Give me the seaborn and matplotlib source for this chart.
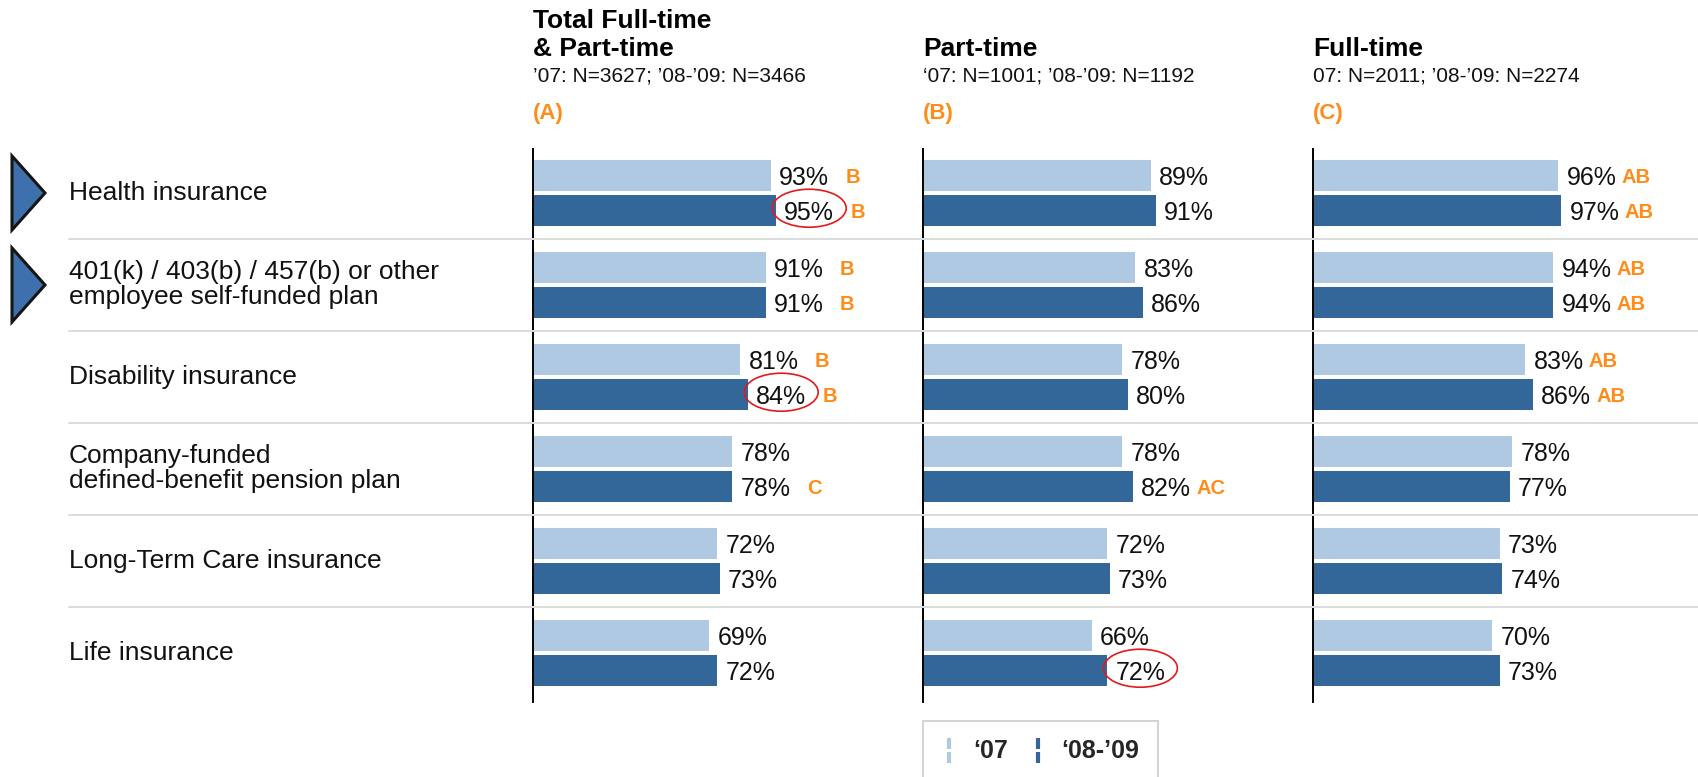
import matplotlib
matplotlib.use("Agg")
import matplotlib.pyplot as plt
import pandas as pd
import seaborn as sns
from matplotlib.lines import Line2D
from matplotlib.patches import Ellipse, Polygon
from matplotlib.path import Path
from matplotlib.transforms import IdentityTransform, blended_transform_factory

# ---- data -------------------------------------------------------------
benefits = [
    "Health insurance",
    "401(k) / 403(b) / 457(b) or other\nemployee self-funded plan",
    "Disability insurance",
    "Company-funded\ndefined-benefit pension plan",
    "Long-Term Care insurance",
    "Life insurance",
]
periods = ["‘07", "‘08-’09"]

total_07 = [93, 91, 81, 78, 72, 69]
total_0809 = [95, 91, 84, 78, 73, 72]
part_07 = [89, 83, 78, 78, 72, 66]
part_0809 = [91, 86, 80, 82, 73, 72]
full_07 = [96, 94, 83, 78, 73, 70]
full_0809 = [97, 94, 86, 77, 74, 73]

# significance letters (difference vs. other columns)
total_sig_07 = ["B", "B", "B", "", "", ""]
total_sig_0809 = ["B", "B", "B", "C", "", ""]
part_sig_07 = ["", "", "", "", "", ""]
part_sig_0809 = ["", "", "", "AC", "", ""]
full_sig_07 = ["AB", "AB", "AB", "", "", ""]
full_sig_0809 = ["AB", "AB", "AB", "", "", ""]

# highlighted values
total_circled_0809 = [True, False, True, False, False, False]
part_circled_0809 = [False, False, False, False, False, True]

panel_titles = ["Total Full-time\n& Part-time", "Part-time", "Full-time"]
panel_counts = ["’07: N=3627; ’08-’09: N=3466",
                "‘07: N=1001; ’08-’09: N=1192",
                "07: N=2011; ’08-’09: N=2274"]
panel_tags = ["(A)", "(B)", "(C)"]
flagged_rows = [0, 1]

# ---- style ------------------------------------------------------------
sns.set_theme(style="white")
plt.rcParams["font.family"] = ["Liberation Sans", "DejaVu Sans"]

LIGHT = "#AFC9E3"
DARK = "#336699"
ORANGE = "#FF8C1A"
RED = "#E3191C"
GRID = "#DCDCDC"

W, H = 1698, 777
fig = plt.figure(figsize=(W / 100, H / 100), dpi=100)
fig.patch.set_facecolor("white")


def fx(px):
    return px / W


def fy(py):
    return 1 - py / H


panels = [
    dict(v07=total_07, v0809=total_0809, s07=total_sig_07, s0809=total_sig_0809,
         circ=total_circled_0809, left=533, gap=16),
    dict(v07=part_07, v0809=part_0809, s07=part_sig_07, s0809=part_sig_0809,
         circ=part_circled_0809, left=923, gap=5),
    dict(v07=full_07, v0809=full_0809, s07=full_sig_07, s0809=full_sig_0809,
         circ=[False] * len(benefits), left=1313, gap=5),
]

AX_TOP, AX_BOTTOM, AX_W = 149, 702, 358
axes = []
value_labels = []
for i, p in enumerate(panels):
    df = pd.DataFrame({
        "benefit": benefits + benefits,
        "period": [periods[0]] * len(benefits) + [periods[1]] * len(benefits),
        "share": p["v07"] + p["v0809"],
    })
    ax = fig.add_axes([fx(p["left"]), fy(AX_BOTTOM), fx(AX_W), (AX_BOTTOM - AX_TOP) / H])
    sns.barplot(data=df, x="share", y="benefit", hue="period", order=benefits,
                hue_order=periods, palette={periods[0]: LIGHT, periods[1]: DARK},
                orient="h", width=0.75, gap=0.09, saturation=1, errorbar=None,
                linewidth=0, legend=False, ax=ax)
    ax.set_xlim(0, 140)
    ax.set_ylim(5.533, -0.478)
    ax.set_xlabel("")
    ax.set_ylabel("")
    ax.set_xticks([])
    ax.set_yticks([])
    ax.patch.set_alpha(0)
    for s in ["top", "right", "bottom"]:
        ax.spines[s].set_visible(False)
    ax.spines["left"].set_color("black")
    ax.spines["left"].set_linewidth(1.4)

    for container, period in zip(ax.containers, periods):
        texts = ax.bar_label(container,
                             labels=[f"{int(round(b.get_width()))}%" for b in container],
                             padding=6, fontsize=18, color="#111111")
        sigs = p["s07"] if period == periods[0] else p["s0809"]
        for bar, t in zip(container, texts):
            t.set_va("center_baseline")
            row = int(round(bar.get_y() + bar.get_height() / 2))
            circled = period == periods[1] and p["circ"][row]
            value_labels.append((ax, bar, t, sigs[row], circled, p["gap"]))

    # column headers
    x0 = fx(p["left"])
    fig.text(x0, fy(61.5), panel_titles[i], ha="left", va="bottom", fontsize=19,
             fontweight="bold", color="black", linespacing=1.22)
    fig.text(x0, fy(81), panel_counts[i], ha="left", va="baseline", fontsize=15,
             color="#111111")
    fig.text(x0, fy(119), panel_tags[i], ha="left", va="baseline", fontsize=16,
             fontweight="bold", color=ORANGE)
    axes.append(ax)

ax0 = axes[0]
row_tf = blended_transform_factory(fig.transFigure, ax0.transData)

# row labels and separators
for k, name in enumerate(benefits):
    fig.text(fx(69), k, name, transform=row_tf, ha="left", va="center",
             fontsize=19, color="#111111", linespacing=1.05)
for k in range(len(benefits) - 1):
    fig.add_artist(Line2D([fx(69), 1.0], [k + 0.5, k + 0.5], transform=row_tf,
                          color=GRID, lw=1.4, zorder=1))

# pointer triangles for the flagged rows
fig.canvas.draw()
renderer = fig.canvas.get_renderer()
for k in flagged_rows:
    cy = ax0.transData.transform((0, k))[1]
    tri = Polygon([(12, cy + 37), (12, cy - 37), (45, cy)], closed=True,
                  transform=IdentityTransform(), facecolor="#3D70AC",
                  edgecolor="#151515", lw=2.2, joinstyle="miter", zorder=3)
    fig.add_artist(tri)

# significance letters and highlight ellipses
for ax, bar, t, sig, circled, gap in value_labels:
    bb = t.get_window_extent(renderer)
    cy = ax.transData.transform((0, bar.get_y() + bar.get_height() / 2))[1]
    if sig:
        fig.text(bb.x1 + gap, cy, sig, transform=IdentityTransform(), ha="left",
                 va="center_baseline", fontsize=14.5, fontweight="bold", color=ORANGE)
    if circled:
        fig.add_artist(Ellipse(((bb.x0 + bb.x1) / 2, cy + 2), 74, 38,
                               transform=IdentityTransform(), facecolor="none",
                               edgecolor=RED, lw=1.2, zorder=5))

# legend with split-tick markers
tick = Path([(0, -1), (0, -0.12), (0, 0.12), (0, 1)],
            [Path.MOVETO, Path.LINETO, Path.MOVETO, Path.LINETO])
handles = [Line2D([], [], linestyle="none", marker=tick, markersize=18,
                  markeredgewidth=3, color=c) for c in (LIGHT, DARK)]
leg = fig.legend(handles, periods, loc="upper left",
                 bbox_to_anchor=(fx(923), fy(720.5)), bbox_transform=fig.transFigure,
                 ncol=2, frameon=True, fancybox=False, borderaxespad=0,
                 borderpad=0.75, handlelength=0.6, handletextpad=0.65,
                 columnspacing=0.9, prop={"weight": "bold", "size": 18})
leg.get_frame().set_edgecolor("#BFBFBF")
leg.get_frame().set_linewidth(1.2)

fig.savefig("out.png", dpi=100, facecolor="white")
